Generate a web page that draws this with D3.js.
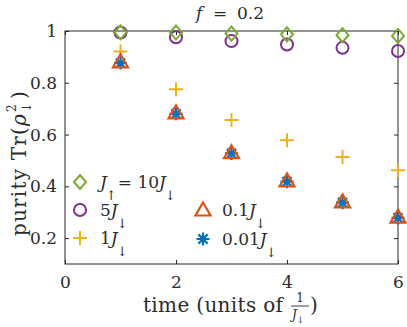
<!DOCTYPE html>
<html>
<head>
<meta charset="utf-8">
<script src="https://cdn.jsdelivr.net/npm/d3@7"></script>
<style>
  body { margin: 0; background: #fff; }
  svg text { font-family: "DejaVu Serif", serif; fill: #2b2b2b; }
</style>
</head>
<body>
<div class="chart"></div>
<script>
// data
const times = [1, 2, 3, 4, 5, 6];
const ratio10 = [0.995, 0.994, 0.990, 0.987, 0.984, 0.981];
const ratio5 = [0.994, 0.976, 0.961, 0.948, 0.935, 0.923];
const ratio1 = [0.921, 0.775, 0.656, 0.578, 0.513, 0.462];
const ratio01 = [0.881, 0.684, 0.530, 0.421, 0.340, 0.281];
const ratio001 = [0.876, 0.680, 0.527, 0.418, 0.337, 0.278];
const xTicks = [0, 2, 4, 6];
const yTicks = [0.2, 0.4, 0.6, 0.8, 1];

let dims = { width: 407, height: 327 };
const margin = { left: 65, right: 9, top: 31, bottom: 63 };
const serif = '"DejaVu Serif", serif';

let svg = d3.select(".chart").append("svg")
  .attr("width", dims.width)
  .attr("height", dims.height);

let x = d3.scaleLinear().domain([0, 6]).range([margin.left, dims.width - margin.right]);
let y = d3.scaleLinear().domain([0.1, 1]).range([dims.height - margin.bottom, margin.top]);

const axisColor = "#262626";
const tickLen = 4;

// frame
svg.append("rect")
  .attr("x", x(0)).attr("y", y(1))
  .attr("width", x(6) - x(0)).attr("height", y(0.1) - y(1))
  .attr("fill", "none").attr("stroke", axisColor).attr("stroke-width", 1);

let axB = svg.append("g").attr("transform", `translate(0,${y(0.1)})`)
  .call(d3.axisBottom(x).tickValues(xTicks).tickSizeInner(-tickLen).tickSizeOuter(0).tickPadding(10).tickFormat(d3.format("d")));
let axT = svg.append("g").attr("transform", `translate(0,${y(1)})`)
  .call(d3.axisTop(x).tickValues(xTicks).tickSizeInner(-tickLen).tickSizeOuter(0).tickFormat(""));
let axL = svg.append("g").attr("transform", `translate(${x(0)},0)`)
  .call(d3.axisLeft(y).tickValues(yTicks).tickSizeInner(-tickLen).tickSizeOuter(0).tickPadding(8).tickFormat(d => d === 1 ? "1" : d3.format(".1f")(d)));
let axR = svg.append("g").attr("transform", `translate(${x(6)},0)`)
  .call(d3.axisRight(y).tickValues(yTicks).tickSizeInner(-tickLen).tickSizeOuter(0).tickFormat(""));

[axB, axT, axL, axR].forEach(a => {
  a.attr("font-family", serif);
  a.select(".domain").remove();
  a.selectAll("line").attr("stroke", axisColor);
  a.selectAll("text").attr("font-size", 17);
});
axB.selectAll("text").attr("dy", "0.8em");

// series
const series = [
  { vals: ratio5, color: "#7E2F8E", shape: "circle" },
  { vals: ratio10, color: "#77AC30", shape: "diamond" },
  { vals: ratio1, color: "#EDB120", shape: "plus" },
  { vals: ratio001, color: "#0072BD", shape: "star" },
  { vals: ratio01, color: "#D95319", shape: "triangle" }
];

function drawMarker(g, shape, color) {
  if (shape === "circle") {
    g.append("circle").attr("r", 6).attr("fill", "none").attr("stroke", color).attr("stroke-width", 2);
  } else if (shape === "diamond") {
    g.append("path").attr("d", "M0,-7L6,0L0,7L-6,0Z").attr("fill", "none").attr("stroke", color).attr("stroke-width", 2);
  } else if (shape === "plus") {
    g.append("path").attr("d", "M-7,0H7M0,-7V7").attr("stroke", color).attr("stroke-width", 2);
  } else if (shape === "triangle") {
    g.append("path").attr("d", "M0,-7.5L7.5,5.5L-7.5,5.5Z").attr("fill", "none").attr("stroke", color).attr("stroke-width", 2.2);
  } else if (shape === "star") {
    g.append("path").attr("d", "M-6.5,0H6.5M0,-6.5V6.5M-4.6,-4.6L4.6,4.6M-4.6,4.6L4.6,-4.6").attr("stroke", color).attr("stroke-width", 2.2);
  }
}

series.forEach(s => {
  let grp = svg.append("g");
  times.forEach((t, i) => {
    let m = grp.append("g").attr("transform", `translate(${x(t)},${y(s.vals[i])})`);
    drawMarker(m, s.shape, s.color);
  });
});

// legend
function legendText(xp, yp, parts) {
  let t = svg.append("text").attr("x", xp).attr("y", yp).attr("font-size", 17);
  parts.forEach(p => {
    let ts = t.append("tspan").text(p.t);
    if (p.i) ts.style("font-style", "italic");
    if (p.sub) ts.attr("font-size", 13);
    if (p.dy) ts.attr("dy", p.dy);
    if (p.dx) ts.attr("dx", p.dx);
  });
}
let lg = [
  { x: 80, y: 182, shape: "diamond", color: "#77AC30" },
  { x: 80, y: 210, shape: "circle", color: "#7E2F8E" },
  { x: 80, y: 238, shape: "plus", color: "#EDB120" },
  { x: 203, y: 210, shape: "triangle", color: "#D95319" },
  { x: 203, y: 239, shape: "star", color: "#0072BD" }
];
lg.forEach(l => drawMarker(svg.append("g").attr("transform", `translate(${l.x},${l.y})`), l.shape, l.color));

legendText(100, 188, [{ t: "J", i: true }, { t: "↑", sub: true, dy: 12, dx: -1 }, { t: "= 10", dy: -12, dx: 1 }, { t: "J", i: true }, { t: "↓", sub: true, dy: 12, dx: -1 }]);
legendText(100, 216, [{ t: "5" }, { t: "J", i: true }, { t: "↓", sub: true, dy: 12, dx: -1 }]);
legendText(100, 244, [{ t: "1" }, { t: "J", i: true }, { t: "↓", sub: true, dy: 12, dx: -1 }]);
legendText(222, 216, [{ t: "0.1" }, { t: "J", i: true }, { t: "↓", sub: true, dy: 12, dx: -1 }]);
legendText(222, 245, [{ t: "0.01" }, { t: "J", i: true }, { t: "↓", sub: true, dy: 12, dx: -1 }]);

// title
let title = svg.append("text").attr("y", 19).attr("font-size", 17);
title.append("tspan").attr("x", 196).text("f").style("font-style", "italic");
title.append("tspan").attr("x", 213).text("=");
title.append("tspan").attr("x", 237).text("0.2");

// x label
svg.append("text").attr("x", 143).attr("y", 312).attr("font-size", 20)
  .attr("textLength", 140).attr("lengthAdjust", "spacing").text("time (units of");
svg.append("text").attr("x", 300).attr("y", 302).attr("text-anchor", "middle").attr("font-size", 12).text("1");
svg.append("line").attr("x1", 291).attr("x2", 309).attr("y1", 306).attr("y2", 306).attr("stroke", axisColor).attr("stroke-width", 0.9);
let den = svg.append("text").attr("x", 292).attr("y", 319).attr("font-size", 12);
den.append("tspan").text("J").style("font-style", "italic");
den.append("tspan").text("↓").attr("font-size", 9).attr("dy", 4);
svg.append("text").attr("x", 310).attr("y", 312).attr("font-size", 20).text(")");

// y label
let yl = svg.append("text").attr("transform", "translate(26,236) rotate(-90)").attr("font-size", 20).attr("letter-spacing", 1.2);
yl.append("tspan").text("purity Tr(");
yl.append("tspan").text("ρ").style("font-style", "italic");
yl.append("tspan").text("↓").attr("font-size", 13).attr("dy", 5);
yl.append("tspan").text("2").attr("font-size", 12).attr("dx", -11).attr("dy", -15);
yl.append("tspan").text(")").attr("dx", 4).attr("dy", 10);
</script>
</body>
</html>
